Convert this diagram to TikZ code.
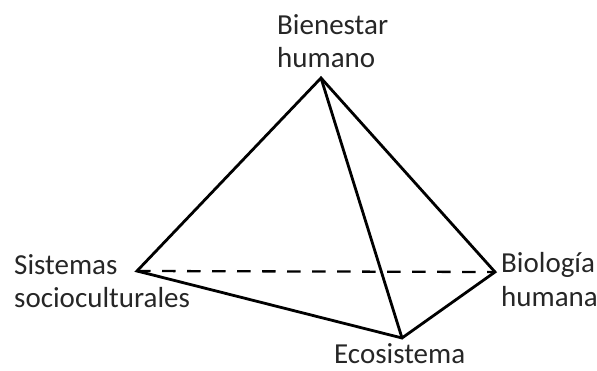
\documentclass[tikz,border=0pt]{standalone}
\usepackage{fontspec}
\setmainfont{Carlito}
\begin{document}
\begin{tikzpicture}[x=1pt,y=-1pt,
  edge/.style={line width=2.8pt, line join=miter, line cap=round},
  hidden/.style={line width=2.3pt, dash pattern=on 13.5pt off 11.5pt},
  lbl/.style={font=\fontsize{29}{33}\selectfont, align=left, inner sep=0pt, text=black!85}]
\useasboundingbox (0,0) rectangle (597,371);
\coordinate (T) at (321,78);
\coordinate (L) at (137,271);
\coordinate (R) at (495,272);
\coordinate (B) at (402,338);
\draw[edge] (L) -- (T) -- (R) -- (B) -- cycle;
\draw[edge] (T) -- (B);
\draw[hidden] (L) -- (R);
\node[lbl, anchor=base west] (tl) at (277,68) {Bienestar\\humano};
\node[lbl, anchor=base west] (ll) at (14,308) {Sistemas\\socioculturales};
\node[lbl, anchor=base west] (rl) at (501,306) {Biología\\humana};
\node[lbl, anchor=base west] (bl) at (334,363) {Ecosistema};
\end{tikzpicture}
\end{document}
